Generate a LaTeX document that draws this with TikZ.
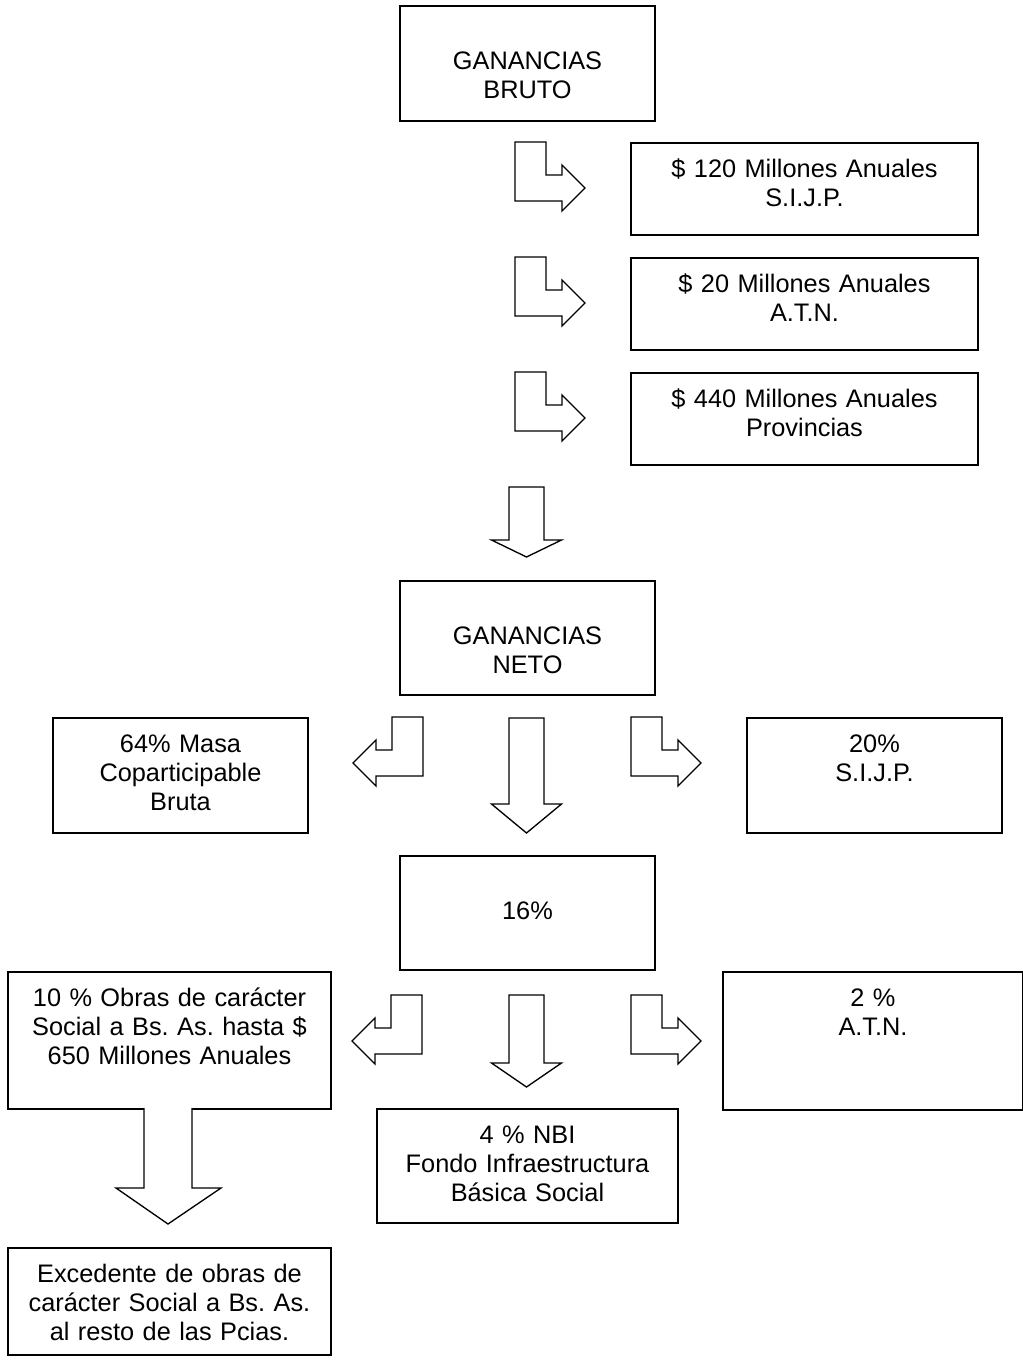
\documentclass[tikz,border=0pt]{standalone}
\usepackage{fontspec}
\setmainfont{Liberation Sans}
\usepackage{tikz}
\frenchspacing
\newcommand\boxfont{\fontsize{19}{21.75}\selectfont}
\tikzset{
    box/.style={draw, rectangle, line width=1.5pt, inner sep=0pt, anchor=north west,
        align=center, font=\boxfont, text height=25.5pt},
    blockarrow/.style={draw, fill=white, line width=1pt, line join=miter},
}
% box at top left corner #2,#3 with size #4 x #5 (px)
\newcommand\TextBox[6]{%
    \pgfmathsetmacro\BoxW{#4*0.75}%
    \pgfmathsetmacro\BoxD{(#5-34)*0.75}%
    \node[box, text width=\BoxW pt, text depth=\BoxD pt] (#1) at (#2,#3) {#6};
}
\newcommand\BentRight[2]{%
    \draw[blockarrow] (#1,#2) -- ++(31,0) -- ++(0,33) -- ++(16,0) -- ++(0,-10)
        -- ++(23,23) -- ++(-23,23) -- ++(0,-10) -- ++(-47,0) -- cycle;
}
\newcommand\BentLeft[2]{%
    \draw[blockarrow] (#1,#2) -- ++(-31,0) -- ++(0,33) -- ++(-16,0) -- ++(0,-10)
        -- ++(-23,23) -- ++(23,23) -- ++(0,-10) -- ++(47,0) -- cycle;
}
\newcommand\DownArrow[4]{%
    \draw[blockarrow] (#1-17.5,#2) -- (#1-17.5,#3) -- (#1-35,#3) -- (#1,#4)
        -- (#1+35,#3) -- (#1+17.5,#3) -- (#1+17.5,#2) -- cycle;
}

\begin{document}
\begin{tikzpicture}[x=0.75pt, y=-0.75pt]
    \useasboundingbox (0,0) rectangle (1023,1364);
    % bruto
    \TextBox{bruto}{399}{5}{255}{115}{\mbox{}\\GANANCIAS\\BRUTO}
    \TextBox{sijpA}{630}{142}{347}{92}{\$ 120 Millones Anuales\\S.I.J.P.}
    \TextBox{atnA}{630}{257}{347}{92}{\$ 20 Millones Anuales\\A.T.N.}
    \TextBox{prov}{630}{372}{347}{92}{\$ 440 Millones Anuales\\Provincias}
    \BentRight{515}{142}
    \BentRight{515}{257}
    \BentRight{515}{372}
    \DownArrow{526.5}{487}{540}{557}
    % neto
    \TextBox{neto}{399}{580}{255}{114}{\mbox{}\\GANANCIAS\\NETO}
    \TextBox{masa}{52}{717}{255}{115}{64\% Masa\\Coparticipable\\Bruta}
    \TextBox{sijpB}{746}{717}{255}{115}{20\%\\S.I.J.P.}
    \BentLeft{423}{717}
    \BentRight{631}{717}
    \DownArrow{526.5}{718}{804}{833}
    % 16%
    \TextBox{diez}{399}{855}{255}{114}{\mbox{}\\16\%}
    \TextBox{obras}{7}{971}{323}{137}{10 \% Obras de carácter\\Social a Bs. As. hasta \$\\650 Millones Anuales}
    \TextBox{atnB}{722}{971}{300}{138}{2 \%\\A.T.N.}
    \TextBox{nbi}{376}{1108}{301}{114}{4 \% NBI\\Fondo Infraestructura\\Básica Social}
    \BentLeft{422}{995}
    \BentRight{631}{995}
    \DownArrow{526.5}{995}{1063}{1087}
    % excedente
    \fill[white] (144,1106.5) rectangle (192,1190);
    \draw[blockarrow] (144,1108) -- (144,1188) -- (116,1188) -- (168,1224)
        -- (221,1188) -- (192,1188) -- (192,1108);
    \TextBox{exced}{7}{1247}{323}{107}{Excedente de obras de\\carácter Social a Bs. As.\\al resto de las Pcias.}
\end{tikzpicture}
\end{document}
